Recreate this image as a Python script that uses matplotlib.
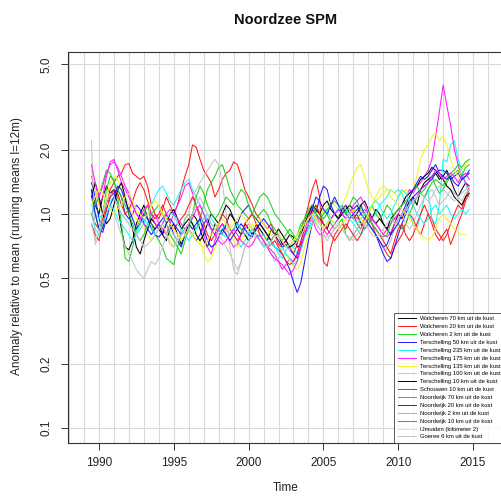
import numpy as np
import matplotlib
matplotlib.use("Agg")
import matplotlib.pyplot as plt

plt.rcParams['font.family'] = ['Liberation Sans', 'DejaVu Sans']

# quarterly time stamps 1989.50 ... 2014.75
start_year = 1989.5
step = 0.25

names = [
    "Walcheren 70 km uit de kust", "Walcheren 20 km uit de kust",
    "Walcheren 2 km uit de kust", "Terschelling 50 km uit de kust",
    "Terschelling 235 km uit de kust", "Terschelling 175 km uit de kust",
    "Terschelling 135 km uit de kust", "Terschelling 100 km uit de kust",
    "Terschelling 10 km uit de kust", "Schouwen 10 km uit de kust",
    "Noordwijk 70 km uit de kust", "Noordwijk 20 km uit de kust",
    "Noordwijk 2 km uit de kust", "Noordwijk 10 km uit de kust",
    "IJmuiden (kilometer 2)", "Goeree 6 km uit de kust",
]
colors = ["#000000", "#FF1A1A", "#1FD01F", "#1A1AFF", "#1AF5F5", "#FF1AFF",
          "#F5F51A", "#C4C4C4"] * 2

walcheren70 = [1.3, 1.1,
    1.0, 1.2, 1.35, 1.25, 1.3, 1.1, 0.85, 0.7, 0.68, 0.75, 0.9, 1.0,
    1.1, 0.95, 0.9, 0.85, 0.9, 0.8, 0.75, 0.85, 0.9, 0.8, 0.72, 0.8,
    0.9, 1.0, 0.95, 0.85, 0.75, 0.7, 0.8, 0.9, 0.85, 0.8, 0.9, 1.0,
    0.95, 0.85, 0.8, 0.9, 0.85, 0.8, 0.9, 0.85, 0.8, 0.75, 0.85, 0.8,
    0.8, 0.72, 0.75, 0.8, 0.78, 0.7, 0.72, 0.8, 0.9, 1.05, 1.0, 0.95,
    0.9, 0.85, 0.95, 1.0, 0.95, 1.05, 1.1, 1.0, 0.95, 1.0, 0.9, 0.85,
    0.9, 0.95, 1.05, 1.0, 0.9, 0.85, 0.8, 0.9, 1.0, 0.95, 1.05, 1.15,
    1.2, 1.1, 1.3, 1.4, 1.45, 1.5, 1.55, 1.45, 1.5, 1.6, 1.45, 1.3,
    1.2, 1.3, 1.4, 1.35]
walcheren20 = [1.0, 0.9,
    0.85, 0.95, 1.1, 1.3, 1.4, 1.5, 1.55, 1.7, 1.72, 1.55, 1.5, 1.45,
    1.5, 1.35, 1.1, 1.0, 0.95, 1.05, 1.2, 1.1, 1.0, 1.1, 1.3, 1.5,
    1.7, 2.1, 2.05, 1.8, 1.6, 1.5, 1.4, 1.2, 1.3, 1.45, 1.55, 1.6,
    1.75, 1.7, 1.5, 1.3, 1.2, 1.1, 1.0, 0.95, 0.9, 0.85, 0.9, 0.8,
    0.72, 0.7, 0.75, 0.7, 0.65, 0.72, 0.85, 0.95, 1.1, 1.3, 1.45, 1.2,
    0.6, 0.57, 0.7, 0.8, 0.85, 0.9, 0.85, 0.95, 1.0, 0.9, 0.85, 0.95,
    1.0, 0.9, 0.8, 0.75, 0.7, 0.65, 0.62, 0.7, 0.75, 0.8, 0.9, 1.0,
    0.95, 0.85, 0.8, 0.9, 1.0, 0.95, 0.85, 0.8, 0.75, 0.8, 0.9, 1.0,
    1.1, 1.05, 1.2, 1.3]
walcheren2 = [1.2, 1.0,
    0.85, 1.0, 1.3, 1.5, 1.45, 1.2, 0.9, 0.62, 0.6, 0.7, 0.85, 0.95,
    1.0, 1.1, 0.9, 0.8, 0.75, 0.7, 0.62, 0.6, 0.58, 0.7, 0.8, 0.95,
    1.0, 0.9, 0.85, 0.95, 1.1, 1.3, 1.4, 1.5, 1.65, 1.7, 1.5, 1.3,
    1.2, 1.1, 1.05, 1.0, 0.95, 1.0, 1.1, 1.2, 1.25, 1.2, 1.1, 1.0,
    0.95, 0.9, 0.85, 0.8, 0.75, 0.8, 0.9, 0.95, 1.0, 1.05, 1.1, 1.0,
    0.95, 1.0, 0.9, 0.85, 0.9, 0.95, 0.8, 0.75, 0.8, 0.85, 0.9, 0.95,
    1.0, 1.1, 1.0, 0.95, 1.0, 1.1, 1.05, 0.95, 0.9, 0.85, 0.9, 1.0,
    1.1, 1.2, 1.25, 1.3, 1.4, 1.5, 1.35, 1.25, 1.3, 1.4, 1.5, 1.55,
    1.6, 1.5, 1.65, 1.7]
terschelling50 = [1.4, 1.2,
    0.95, 0.85, 1.05, 1.2, 1.25, 1.3, 1.2, 1.0, 0.95, 1.0, 1.1, 1.05,
    0.9, 0.85, 0.8, 0.85, 0.9, 0.95, 1.0, 0.9, 0.8, 0.75, 0.7, 0.8,
    0.85, 0.8, 0.75, 0.8, 0.9, 0.95, 0.85, 0.8, 0.85, 0.9, 0.85, 0.8,
    0.85, 0.9, 1.0, 1.05, 1.1, 1.0, 0.95, 0.9, 0.85, 0.8, 0.75, 0.7,
    0.68, 0.65, 0.6, 0.55, 0.48, 0.43, 0.48, 0.6, 0.75, 0.9, 1.0, 1.2,
    1.35, 1.3, 1.1, 1.0, 1.05, 1.1, 1.0, 0.95, 1.0, 1.05, 1.1, 1.0,
    0.9, 0.85, 0.8, 0.72, 0.65, 0.6, 0.62, 0.7, 0.8, 0.9, 1.0, 1.1,
    1.2, 1.25, 1.3, 1.35, 1.4, 1.45, 1.55, 1.6, 1.6, 1.55, 1.45, 1.5,
    1.55, 1.45, 1.5, 1.55]
terschelling235 = [1.1, 1.0,
    0.95, 1.0, 1.1, 1.15, 1.2, 1.1, 1.0, 0.95, 0.9, 0.85, 0.8, 0.85,
    0.9, 1.0, 1.1, 1.2, 1.3, 1.35, 1.25, 1.15, 1.1, 1.2, 1.3, 1.4,
    1.45, 1.3, 1.2, 1.1, 1.0, 0.95, 0.9, 0.85, 0.8, 0.85, 0.9, 0.85,
    0.8, 0.75, 0.7, 0.75, 0.8, 0.85, 0.8, 0.75, 0.7, 0.72, 0.75, 0.7,
    0.65, 0.62, 0.68, 0.72, 0.7, 0.65, 0.7, 0.8, 0.85, 0.95, 1.05, 1.0,
    1.0, 1.05, 0.95, 0.9, 0.95, 1.0, 1.05, 0.95, 0.9, 0.85, 0.8, 0.85,
    0.9, 0.95, 1.0, 1.1, 1.15, 1.2, 1.3, 1.25, 1.3, 1.25, 1.1, 1.0,
    0.9, 0.85, 1.0, 1.2, 1.3, 0.95, 0.9, 1.1, 1.8, 1.75, 2.1, 2.2,
    1.8, 1.6, 1.4, 1.2]
terschelling175 = [1.5, 1.3,
    1.1, 1.2, 1.5, 1.75, 1.8, 1.6, 1.4, 1.3, 1.2, 1.1, 1.0, 0.95,
    0.9, 0.85, 0.95, 1.0, 0.9, 0.85, 0.8, 0.9, 1.0, 1.1, 1.2, 1.35,
    1.4, 1.25, 1.1, 0.95, 0.8, 0.7, 0.65, 0.75, 0.85, 0.9, 0.8, 0.75,
    0.7, 0.72, 0.8, 0.85, 0.9, 0.85, 0.8, 0.75, 0.72, 0.7, 0.68, 0.65,
    0.6, 0.55, 0.58, 0.62, 0.6, 0.65, 0.75, 0.85, 0.95, 1.1, 1.0, 0.9,
    0.85, 0.8, 0.85, 0.9, 0.95, 1.0, 1.1, 1.05, 1.0, 0.95, 1.0, 1.05,
    1.0, 0.95, 0.9, 0.85, 0.8, 0.85, 0.9, 0.95, 1.0, 1.1, 1.2, 1.3,
    1.25, 1.35, 1.4, 1.5, 1.6, 1.8, 2.3, 3.0, 4.0, 3.2, 2.6, 2.0,
    1.7, 1.5, 1.4, 1.3]
terschelling135 = [1.6, 1.3,
    1.1, 1.0, 1.2, 1.4, 1.5, 1.45, 1.3, 1.2, 1.1, 1.0, 0.95, 0.9,
    0.85, 0.8, 0.75, 0.8, 0.85, 0.9, 0.8, 0.75, 0.7, 0.75, 0.8, 0.85,
    0.9, 0.85, 0.8, 0.75, 0.65, 0.6, 0.62, 0.7, 0.75, 0.8, 0.85, 0.8,
    0.75, 0.7, 0.75, 0.8, 0.85, 0.9, 0.85, 0.8, 0.75, 0.8, 0.85, 0.8,
    0.75, 0.7, 0.65, 0.6, 0.57, 0.55, 0.6, 0.7, 0.8, 0.9, 1.0, 1.05,
    1.0, 1.1, 1.15, 1.1, 1.05, 1.1, 1.2, 1.35, 1.5, 1.65, 1.7, 1.5,
    1.3, 1.2, 1.15, 1.2, 1.25, 1.3, 1.3, 1.25, 1.2, 1.25, 1.3, 1.2,
    1.3, 1.5, 1.8, 2.0, 2.1, 2.3, 2.4, 2.2, 2.3, 2.1, 1.8, 1.6,
    1.5, 1.6, 1.7, 1.8]
terschelling100 = [2.2, 0.72,
    0.8, 0.9, 1.0, 1.1, 1.0, 0.9, 0.8, 0.7, 0.65, 0.6, 0.55, 0.52,
    0.5, 0.55, 0.6, 0.58, 0.62, 0.7, 0.8, 0.85, 0.8, 0.75, 0.85, 0.95,
    1.0, 1.2, 1.3, 1.4, 1.5, 1.6, 1.7, 1.8, 1.7, 1.4, 1.0, 0.7,
    0.55, 0.52, 0.6, 0.7, 0.75, 0.8, 0.85, 0.8, 0.75, 0.7, 0.65, 0.6,
    0.62, 0.68, 0.72, 0.7, 0.75, 0.8, 0.85, 0.9, 0.95, 1.0, 0.9, 0.85,
    0.8, 0.75, 0.8, 0.85, 0.9, 0.85, 0.8, 0.75, 0.8, 0.85, 0.9, 0.95,
    0.9, 0.85, 0.8, 0.75, 0.7, 0.68, 0.75, 0.85, 0.95, 1.0, 0.9, 0.85,
    0.9, 1.0, 1.1, 1.2, 1.25, 1.3, 1.2, 1.1, 1.15, 1.2, 1.3, 1.25,
    1.2, 1.15, 1.25, 1.3]
terschelling10 = [1.2, 1.4,
    1.2, 1.0, 0.9, 0.95, 1.1, 1.3, 1.4, 1.2, 1.0, 0.85, 0.7, 0.65,
    0.75, 0.85, 0.95, 0.9, 0.85, 0.8, 0.9, 1.0, 1.05, 0.95, 0.85, 0.9,
    0.95, 0.9, 0.8, 0.75, 0.8, 0.9, 1.0, 0.95, 0.9, 1.0, 1.1, 1.05,
    0.95, 0.9, 0.85, 0.8, 0.75, 0.8, 0.85, 0.9, 0.85, 0.8, 0.75, 0.8,
    0.85, 0.8, 0.75, 0.7, 0.72, 0.75, 0.8, 0.9, 1.0, 1.1, 1.05, 1.0,
    1.1, 1.15, 1.05, 1.0, 0.95, 1.0, 1.05, 1.1, 1.05, 1.0, 1.1, 1.15,
    1.05, 0.95, 0.9, 0.95, 0.9, 0.85, 0.95, 1.0, 1.05, 1.1, 1.2, 1.25,
    1.3, 1.35, 1.45, 1.5, 1.55, 1.65, 1.6, 1.5, 1.45, 1.35, 1.3, 1.2,
    1.15, 1.1, 1.2, 1.25]
schouwen10 = [0.9, 0.8,
    0.75, 0.9, 1.05, 1.2, 1.3, 1.25, 1.1, 1.0, 1.05, 1.15, 1.3, 1.4,
    1.3, 1.15, 1.0, 0.95, 1.0, 1.1, 1.0, 0.9, 0.85, 0.9, 0.95, 1.0,
    1.1, 1.2, 1.1, 1.0, 0.9, 0.8, 0.75, 0.8, 0.9, 1.0, 0.95, 0.85,
    0.8, 0.75, 0.8, 0.9, 0.95, 1.0, 0.9, 0.8, 0.75, 0.7, 0.72, 0.75,
    0.7, 0.65, 0.6, 0.58, 0.6, 0.65, 0.75, 0.85, 0.9, 1.0, 1.1, 1.0,
    0.9, 0.85, 0.8, 0.75, 0.8, 0.85, 0.9, 0.85, 0.8, 0.75, 0.8, 0.9,
    0.95, 0.9, 0.85, 0.8, 0.75, 0.7, 0.65, 0.75, 0.85, 0.9, 0.8, 0.75,
    0.8, 0.9, 1.0, 1.1, 1.0, 0.9, 0.8, 0.75, 0.8, 0.85, 0.72, 0.8,
    0.9, 1.0, 1.15, 1.25]
noordwijk70 = [1.0, 1.1,
    1.2, 1.4, 1.6, 1.55, 1.4, 1.3, 1.2, 1.1, 1.0, 0.9, 0.8, 0.75,
    0.8, 0.9, 1.0, 1.05, 1.1, 1.0, 0.9, 0.8, 0.75, 0.7, 0.65, 0.75,
    0.85, 1.0, 1.2, 1.35, 1.25, 1.1, 1.0, 0.95, 1.0, 1.1, 1.2, 1.15,
    1.1, 1.2, 1.3, 1.25, 1.1, 1.0, 0.95, 1.0, 1.05, 1.0, 0.9, 0.85,
    0.8, 0.75, 0.8, 0.85, 0.8, 0.75, 0.85, 0.95, 1.05, 1.1, 1.0, 0.95,
    1.0, 1.05, 1.1, 1.15, 1.1, 1.05, 1.0, 1.1, 1.2, 1.15, 1.05, 1.0,
    0.95, 0.9, 0.85, 0.8, 0.78, 0.8, 0.9, 1.0, 1.05, 1.1, 1.15, 1.2,
    1.3, 1.35, 1.25, 1.2, 1.3, 1.4, 1.45, 1.4, 1.35, 1.45, 1.55, 1.6,
    1.7, 1.65, 1.75, 1.8]
noordwijk20 = [1.3, 1.0,
    0.85, 0.82, 0.95, 1.1, 1.2, 1.35, 1.3, 1.15, 1.05, 0.95, 0.85, 0.9,
    1.0, 0.95, 0.85, 0.8, 0.78, 0.82, 0.9, 0.95, 0.9, 0.85, 0.8, 0.85,
    0.9, 0.85, 0.9, 0.95, 0.85, 0.75, 0.7, 0.72, 0.78, 0.85, 0.8, 0.75,
    0.8, 0.85, 0.9, 0.85, 0.8, 0.78, 0.85, 0.9, 0.95, 0.9, 0.85, 0.8,
    0.75, 0.7, 0.72, 0.68, 0.65, 0.62, 0.7, 0.8, 0.9, 1.05, 1.2, 1.15,
    1.05, 1.0, 1.1, 1.2, 1.1, 1.0, 0.95, 1.0, 1.05, 1.1, 1.0, 0.95,
    0.9, 0.85, 0.8, 0.75, 0.7, 0.72, 0.8, 0.85, 0.9, 1.0, 1.1, 1.2,
    1.3, 1.4, 1.5, 1.45, 1.5, 1.6, 1.7, 1.55, 1.5, 1.45, 1.5, 1.4,
    1.35, 1.45, 1.5, 1.6]
noordwijk2 = [1.0, 0.85,
    0.8, 0.9, 1.0, 1.1, 1.05, 0.95, 0.9, 0.85, 0.8, 0.75, 0.8, 0.9,
    0.95, 0.9, 0.85, 0.8, 0.85, 0.9, 0.95, 1.0, 1.0, 0.9, 0.85, 0.8,
    0.75, 0.8, 0.85, 0.9, 0.95, 1.0, 0.95, 0.9, 0.85, 0.8, 0.78, 0.8,
    0.85, 0.9, 0.85, 0.8, 0.82, 0.85, 0.8, 0.78, 0.8, 0.75, 0.72, 0.7,
    0.68, 0.7, 0.65, 0.62, 0.58, 0.6, 0.68, 0.78, 0.85, 0.9, 0.95, 0.9,
    0.85, 0.9, 0.95, 1.0, 1.05, 1.1, 1.05, 1.0, 0.95, 0.9, 0.95, 1.0,
    1.05, 1.1, 1.15, 1.1, 1.0, 0.95, 1.0, 1.1, 1.2, 1.3, 1.25, 1.15,
    1.1, 1.0, 0.95, 0.9, 0.95, 1.05, 1.1, 1.0, 1.05, 1.1, 1.0, 0.95,
    1.0, 1.05, 1.0, 1.05]
noordwijk10 = [1.7, 1.4,
    1.2, 1.35, 1.55, 1.7, 1.75, 1.65, 1.5, 1.35, 1.25, 1.1, 1.0, 0.95,
    1.05, 1.1, 1.0, 0.9, 0.85, 0.9, 1.0, 1.05, 1.0, 0.95, 0.9, 0.85,
    0.9, 0.95, 1.05, 1.1, 1.0, 0.9, 0.85, 0.8, 0.75, 0.72, 0.75, 0.8,
    0.85, 0.8, 0.75, 0.72, 0.7, 0.72, 0.78, 0.8, 0.75, 0.7, 0.65, 0.62,
    0.6, 0.58, 0.55, 0.52, 0.55, 0.6, 0.7, 0.8, 0.9, 0.95, 0.85, 0.8,
    0.82, 0.9, 0.95, 1.0, 1.05, 1.0, 0.95, 1.0, 1.1, 1.15, 1.2, 1.1,
    1.0, 0.95, 0.9, 0.85, 0.8, 0.78, 0.82, 0.9, 0.95, 1.0, 1.05, 1.1,
    1.15, 1.2, 1.3, 1.35, 1.4, 1.5, 1.6, 1.55, 1.45, 1.5, 1.55, 1.5,
    1.4, 1.5, 1.55, 1.45]
ijmuiden = [1.1, 1.2,
    1.3, 1.25, 1.15, 1.05, 1.0, 1.05, 1.1, 1.2, 1.25, 1.15, 1.05, 1.0,
    0.95, 1.0, 1.1, 1.15, 1.1, 1.0, 0.95, 0.9, 0.85, 0.8, 0.75, 0.8,
    0.85, 0.8, 0.75, 0.72, 0.7, 0.75, 0.8, 0.85, 0.9, 0.95, 0.9, 0.85,
    0.9, 0.95, 1.0, 0.95, 0.9, 0.85, 0.9, 0.95, 0.9, 0.85, 0.8, 0.78,
    0.8, 0.75, 0.7, 0.72, 0.75, 0.8, 0.85, 0.9, 0.95, 1.0, 0.95, 0.9,
    0.85, 0.9, 0.95, 0.9, 0.85, 0.9, 0.95, 1.0, 1.05, 1.0, 0.95, 0.9,
    1.0, 1.1, 1.2, 1.3, 1.35, 1.3, 1.2, 1.15, 1.1, 1.05, 1.0, 0.95,
    0.9, 0.85, 0.8, 0.78, 0.75, 0.78, 0.85, 0.95, 1.0, 0.95, 0.9, 0.85,
    0.82, 0.8, 0.8, np.nan]
goeree6 = [0.9, 0.75,
    0.85, 1.0, 1.15, 1.25, 1.2, 1.1, 1.0, 0.95, 0.9, 0.85, 0.8, 0.75,
    0.7, 0.72, 0.75, 0.8, 0.85, 0.9, 0.8, 0.72, 0.7, 0.75, 0.8, 0.85,
    0.9, 1.0, 1.1, 1.2, 1.1, 1.0, 0.9, 0.85, 0.8, 0.75, 0.7, 0.65,
    0.6, 0.55, 0.6, 0.7, 0.75, 0.8, 0.78, 0.75, 0.72, 0.7, 0.75, 0.8,
    0.78, 0.75, 0.7, 0.68, 0.7, 0.75, 0.8, 0.85, 0.9, 0.95, 0.9, 0.85,
    0.8, 0.78, 0.8, 0.85, 0.9, 0.85, 0.8, 0.78, 0.75, 0.8, 0.85, 0.9,
    0.85, 0.8, 0.78, 0.8, 0.85, 0.9, 0.95, 0.9, 0.95, 1.0, 1.05, 1.1,
    1.15, 1.2, 1.25, 1.2, 1.15, 1.2, 1.3, 1.35, 1.3, 1.25, 1.2, 1.15,
    1.2, 1.25, 1.3, 1.35]

series = [walcheren70, walcheren20, walcheren2, terschelling50,
          terschelling235, terschelling175, terschelling135, terschelling100,
          terschelling10, schouwen10, noordwijk70, noordwijk20,
          noordwijk2, noordwijk10, ijmuiden, goeree6]

xticks = [1990, 1995, 2000, 2005, 2010, 2015]
yticks = [0.1, 0.2, 0.5, 1.0, 2.0, 5.0]
ytick_labels = ["0.1", "0.2", "0.5", "1.0", "2.0", "5.0"]

W = H = 501
fig = plt.figure(figsize=(W / 100, H / 100), dpi=100)
ax = fig.add_axes([68 / W, 1 - 443 / H, (504 - 68) / W, (443 - 52) / H])

ax.set_yscale('log')
ax.set_xlim(1987.93, 2017.07)
ax.set_ylim(0.0851, 5.71)

# grid
for yr in range(1988, 2018):
    ax.axvline(yr, color='#DADADA', lw=0.8, zorder=0)
for yv in yticks:
    ax.axhline(yv, color='#DADADA', lw=0.8, zorder=0)

for vals, col, name in zip(series, colors, names):
    v = np.array(vals, dtype=float)
    t = start_year + step * np.arange(len(v))
    ax.plot(t, v, color=col, lw=0.75, label=name, zorder=2)

ax.set_xticks(xticks)
ax.set_xticklabels([str(x) for x in xticks])
ax.set_yticks(yticks)
ax.set_yticklabels(ytick_labels, rotation=90, va='center')
ax.yaxis.set_minor_locator(matplotlib.ticker.NullLocator())
ax.tick_params(axis='both', direction='out', length=5, width=0.7,
               color='#333333', labelsize=8.5, labelcolor='#222222')
ax.tick_params(axis='x', pad=5)
ax.tick_params(axis='y', pad=6)
for s in ax.spines.values():
    s.set_color('#333333')
    s.set_linewidth(0.8)

fig.text(286 / W, 1 - 20 / H, "Noordzee SPM", ha='center', va='center',
         fontsize=10.5, fontweight='bold', color='#111111')
fig.text(286 / W, 1 - 488 / H, "Time", ha='center', va='center',
         fontsize=8.5, color='#222222')
fig.text(17 / W, 1 - 246 / H, "Anomaly relative to mean (running means l=12m)",
         ha='center', va='center', rotation=90, fontsize=8.5, color='#222222')

leg = ax.legend(loc='lower right', fontsize=4.2, frameon=True, fancybox=False,
                borderaxespad=0, borderpad=0.6, labelspacing=0.48,
                handlelength=3.2, handletextpad=0.6)
leg.get_frame().set_edgecolor('#333333')
leg.get_frame().set_linewidth(0.7)
for line in leg.get_lines():
    line.set_linewidth(0.7)

fig.savefig("out.png", dpi=100)
